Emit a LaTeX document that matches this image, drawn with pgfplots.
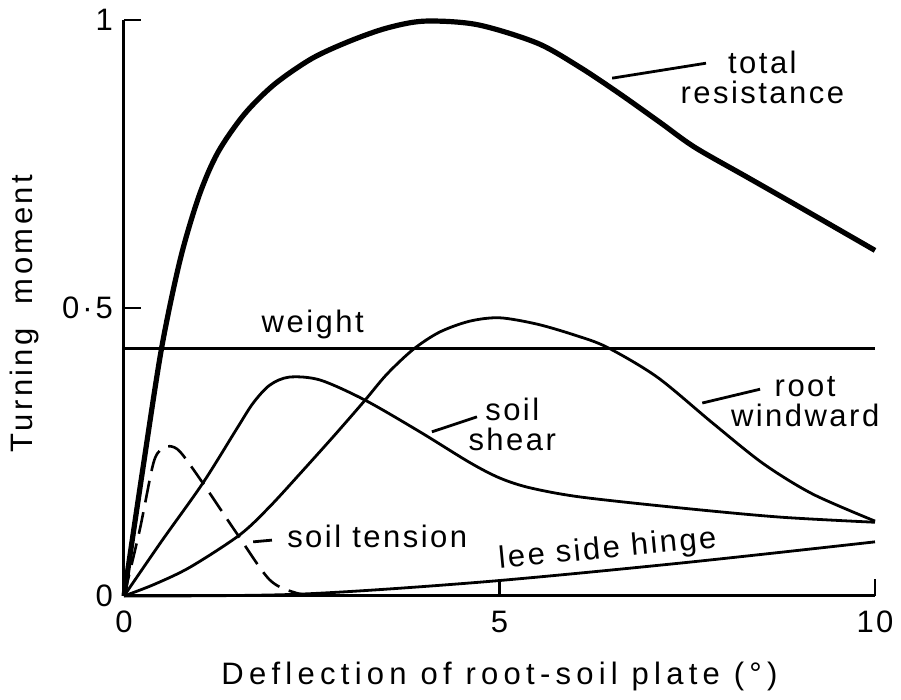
\documentclass[border=0pt]{standalone}
\usepackage{fontspec}
\setmainfont{Liberation Sans}[LetterSpace=8]
\usepackage{pgfplots}
\pgfplotsset{compat=1.18}
\begin{document}
\begin{tikzpicture}
\useasboundingbox (-62pt,-52pt) rectangle (388.5pt,298pt);
\begin{axis}[
    scale only axis,
    width=375.5pt, height=288pt,
    xmin=0, xmax=10, ymin=0, ymax=1,
    axis x line=bottom, axis y line=left,
    axis line style={-, line width=1.5pt},
    xtick={0,5,10}, xticklabels={0,5,10},
    ytick={0,0.5,1}, yticklabels={0,0{\kern1.5pt}·{\kern1.5pt}5,1},
    tick align=inside,
    major tick length=8.5pt,
    tick style={line width=1.4pt, black},
    ticklabel style={font=\fontsize{15.5}{18}\selectfont},
    xticklabel style={yshift=-4pt},
    yticklabel style={xshift=-2pt},
    xlabel={Deflection of root\,-\,soil plate (°)},
    ylabel={Turning\ \ moment},
    xlabel style={at={(axis description cs:0.5,-0.14)}, anchor=center,
      font=\fontsize{15.5}{18}\selectfont\addfontfeature{LetterSpace=17}},
    ylabel style={at={(axis description cs:-0.132,0.49)}, anchor=center,
      font=\fontsize{15.5}{18}\selectfont\addfontfeature{LetterSpace=11}},
    clip=false,
  ]

  % total resistance
  \addplot[black, line width=2.6pt, smooth, tension=0.5] coordinates {
    (0,0) (0.25,0.22) (0.5,0.43) (0.75,0.585) (1.0,0.695) (1.25,0.77)
    (1.6,0.836) (2.0,0.888) (2.5,0.933) (3.0,0.963) (3.5,0.986) (4.0,0.998)
    (4.7,0.992) (5.5,0.96) (6.07,0.918) (6.6,0.872) (7.14,0.822) (7.6,0.779)
    (8.3,0.727) (9.0,0.675) (10,0.60)
  };

  % weight
  \addplot[black, line width=1.3pt] coordinates {(0,0.43) (10,0.43)};

  % soil tension
  \addplot[black, line width=1.3pt, smooth, dash pattern=on 11pt off 5pt] coordinates {
    (0,0) (0.21,0.115) (0.39,0.23) (0.5,0.255) (0.61,0.26) (0.75,0.25)
    (1.05,0.196) (1.5,0.109) (1.94,0.028) (2.3,0.005) (2.6,0)
  };

  % soil shear
  \addplot[black, line width=1.4pt, smooth] coordinates {
    (0,0) (0.5,0.095) (1.05,0.196) (1.5,0.29) (1.72,0.335) (1.94,0.366)
    (2.2,0.38) (2.61,0.375) (3.21,0.34) (3.94,0.285) (4.6,0.232) (5.0,0.205)
    (5.4,0.188) (6.07,0.172) (7.4,0.153) (8.73,0.137) (10,0.128)
  };

  % root windward
  \addplot[black, line width=1.4pt, smooth] coordinates {
    (0,0) (0.4,0.02) (0.88,0.05) (1.54,0.106) (1.94,0.155) (2.39,0.219)
    (2.83,0.283) (3.21,0.34) (3.5,0.385) (3.85,0.428) (4.2,0.458) (4.6,0.477)
    (5.0,0.483) (5.5,0.472) (6.0,0.453) (6.43,0.432) (7.1,0.38) (7.84,0.30)
    (8.51,0.23) (9.17,0.177) (10,0.13)
  };

  % lee side hinge
  \addplot[black, line width=1.4pt, smooth] coordinates {
    (0,0) (2.3,0.003) (4.74,0.024) (7.4,0.057) (10,0.094)
  };

  % leader lines
  \addplot[black, line width=1.4pt] coordinates {(6.50,0.899) (7.75,0.925)};
  \addplot[black, line width=1.4pt] coordinates {(4.10,0.285) (4.70,0.311)};
  \addplot[black, line width=1.4pt] coordinates {(7.70,0.335) (8.47,0.359)};
  \addplot[black, line width=1.4pt] coordinates {(1.72,0.094) (1.97,0.097)};

  \node[align=center, font=\fontsize{15.5}{15}\selectfont] at (axis cs:8.5,0.90) {total\\resistance};
  \node[anchor=base west, font=\fontsize{15.5}{18}\selectfont] at (axis cs:1.74,0.457) {weight};
  \node[align=center, font=\fontsize{15.5}{15}\selectfont] at (axis cs:5.17,0.298) {soil\\shear};
  \node[align=center, font=\fontsize{15.5}{15}\selectfont] at (axis cs:9.07,0.338) {root\\windward};
  \node[anchor=base west, font=\fontsize{15.5}{18}\selectfont] at (axis cs:2.08,0.085) {soil tension};
  \node[anchor=base, rotate=5.5, font=\fontsize{15.5}{18}\selectfont] at (axis cs:6.45,0.066) {lee side hinge};

\end{axis}
\end{tikzpicture}
\end{document}
